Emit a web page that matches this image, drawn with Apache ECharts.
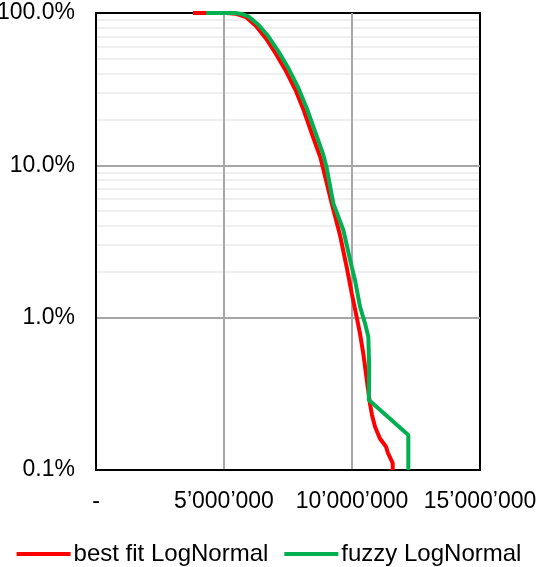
<!DOCTYPE html>
<html>
<head>
<meta charset="utf-8">
<script src="https://cdn.jsdelivr.net/npm/echarts@6/dist/echarts.min.js"></script>
<style>
  html, body { margin: 0; padding: 0; background: #fff; }
  #chart { width: 538px; height: 567px; }
</style>
</head>
<body>
<div id="chart"></div>
<script>
// Exceedance probability curves: loss amount vs probability of exceedance
const bestFitX = [3790000, 5080000, 5450000, 5860000, 6250000, 6640000, 7030000, 7420000, 7810000, 8125000,
  8440000, 8770000, 8887000, 9207000, 9530000, 9790000, 9990000, 10180000, 10310000, 10440000,
  10510000, 10630000, 10700000, 10780000, 10900000, 11090000, 11330000, 11406000, 11590000, 11590000];
const bestFitP = [1.0, 0.999, 0.99, 0.941, 0.822, 0.68, 0.538, 0.416, 0.308, 0.227,
  0.16, 0.112, 0.093, 0.0563, 0.0349, 0.0216, 0.01445, 0.01015, 0.00789, 0.00583,
  0.00477, 0.00335, 0.00274, 0.0023, 0.00192, 0.00161, 0.00142, 0.00129, 0.00111, 0.001];

const fuzzyX = [4300000, 5430000, 5700000, 5949000, 6340000, 6730000, 7121000, 7512000, 7902000, 8230000,
  8555000, 8879000, 9012000, 9270000, 9660000, 9988000, 10117000, 10313000, 10508000, 10637000,
  10670000, 10660000, 12200000, 12200000];
const fuzzyP = [1.0, 0.999, 0.985, 0.951, 0.838, 0.703, 0.561, 0.435, 0.322, 0.238,
  0.167, 0.1174, 0.096, 0.0563, 0.0376, 0.0216, 0.01767, 0.0118, 0.00918, 0.0075,
  0.00477, 0.00288, 0.0017, 0.001];

const seriesNames = ['best fit LogNormal', 'fuzzy LogNormal'];
const xTicks = [0, 5000000, 10000000, 15000000];
const yTicks = [0.001, 0.01, 0.1, 1];
// light guide lines at 2..9 within each decade
const minorY = [];
[0.001, 0.01, 0.1].forEach(d => { for (let k = 2; k <= 9; k++) minorY.push(+(d * k).toPrecision(3)); });

const pairs = (xs, ys) => xs.map((x, i) => [x, ys[i]]);

function fmtThousands(v) {
  if (v === 0) return '-';
  return String(Math.round(v)).replace(/\B(?=(\d{3})+(?!\d))/g, '\u2019');
}

const font = '"Liberation Sans", Arial, sans-serif';
const chart = echarts.init(document.getElementById('chart'), null, { renderer: 'canvas' });

chart.setOption({
  animation: false,
  backgroundColor: '#fff',
  textStyle: { fontFamily: font },
  grid: {
    left: 96, right: 58, top: 13, bottom: 97,
    containLabel: false, outerBoundsMode: 'none',
    show: true, borderColor: '#000', borderWidth: 2, backgroundColor: 'transparent'
  },
  xAxis: {
    type: 'value',
    min: xTicks[0], max: xTicks[xTicks.length - 1], interval: 5000000,
    axisLine: { show: true, lineStyle: { color: '#000', width: 2 } },
    axisTick: { show: false },
    axisLabel: { formatter: fmtThousands, color: '#000', fontSize: 23, fontFamily: font, margin: 20 },
    splitLine: { show: true, showMinLine: false, showMaxLine: false, lineStyle: { color: '#a6a6a6', width: 2 } }
  },
  yAxis: {
    type: 'log', logBase: 10,
    min: yTicks[0], max: yTicks[yTicks.length - 1],
    axisLine: { show: true, lineStyle: { color: '#000', width: 2 } },
    axisTick: { show: false },
    axisLabel: { formatter: v => (v * 100).toFixed(1) + '%', color: '#000', fontSize: 23, fontFamily: font, margin: 21 },
    splitLine: { show: true, showMinLine: false, showMaxLine: false, lineStyle: { color: '#a6a6a6', width: 2 } }
  },
  legend: {
    data: seriesNames.map(n => ({ name: n, icon: 'rect' })),
    left: 'center', top: 537,
    itemWidth: 54, itemHeight: 4, itemGap: 16,
    textStyle: { color: '#000', fontSize: 24, fontFamily: font, padding: [0, 0, 0, -2] }
  },
  series: [
    {
      name: 'minor',
      type: 'line',
      data: [],
      z: -1,
      silent: true,
      markLine: {
        silent: true, symbol: 'none', label: { show: false }, z: -1,
        lineStyle: { color: '#efefef', width: 2, type: 'solid' },
        data: minorY.map(v => ({ yAxis: v }))
      }
    },
    {
      name: seriesNames[0], type: 'line', data: pairs(bestFitX, bestFitP),
      showSymbol: false, symbol: 'none', z: 3,
      itemStyle: { color: '#ff0000' },
      lineStyle: { color: '#ff0000', width: 4 }
    },
    {
      name: seriesNames[1], type: 'line', data: pairs(fuzzyX, fuzzyP),
      showSymbol: false, symbol: 'none', z: 4,
      itemStyle: { color: '#00b050' },
      lineStyle: { color: '#00b050', width: 4 }
    }
  ]
});
</script>
</body>
</html>
